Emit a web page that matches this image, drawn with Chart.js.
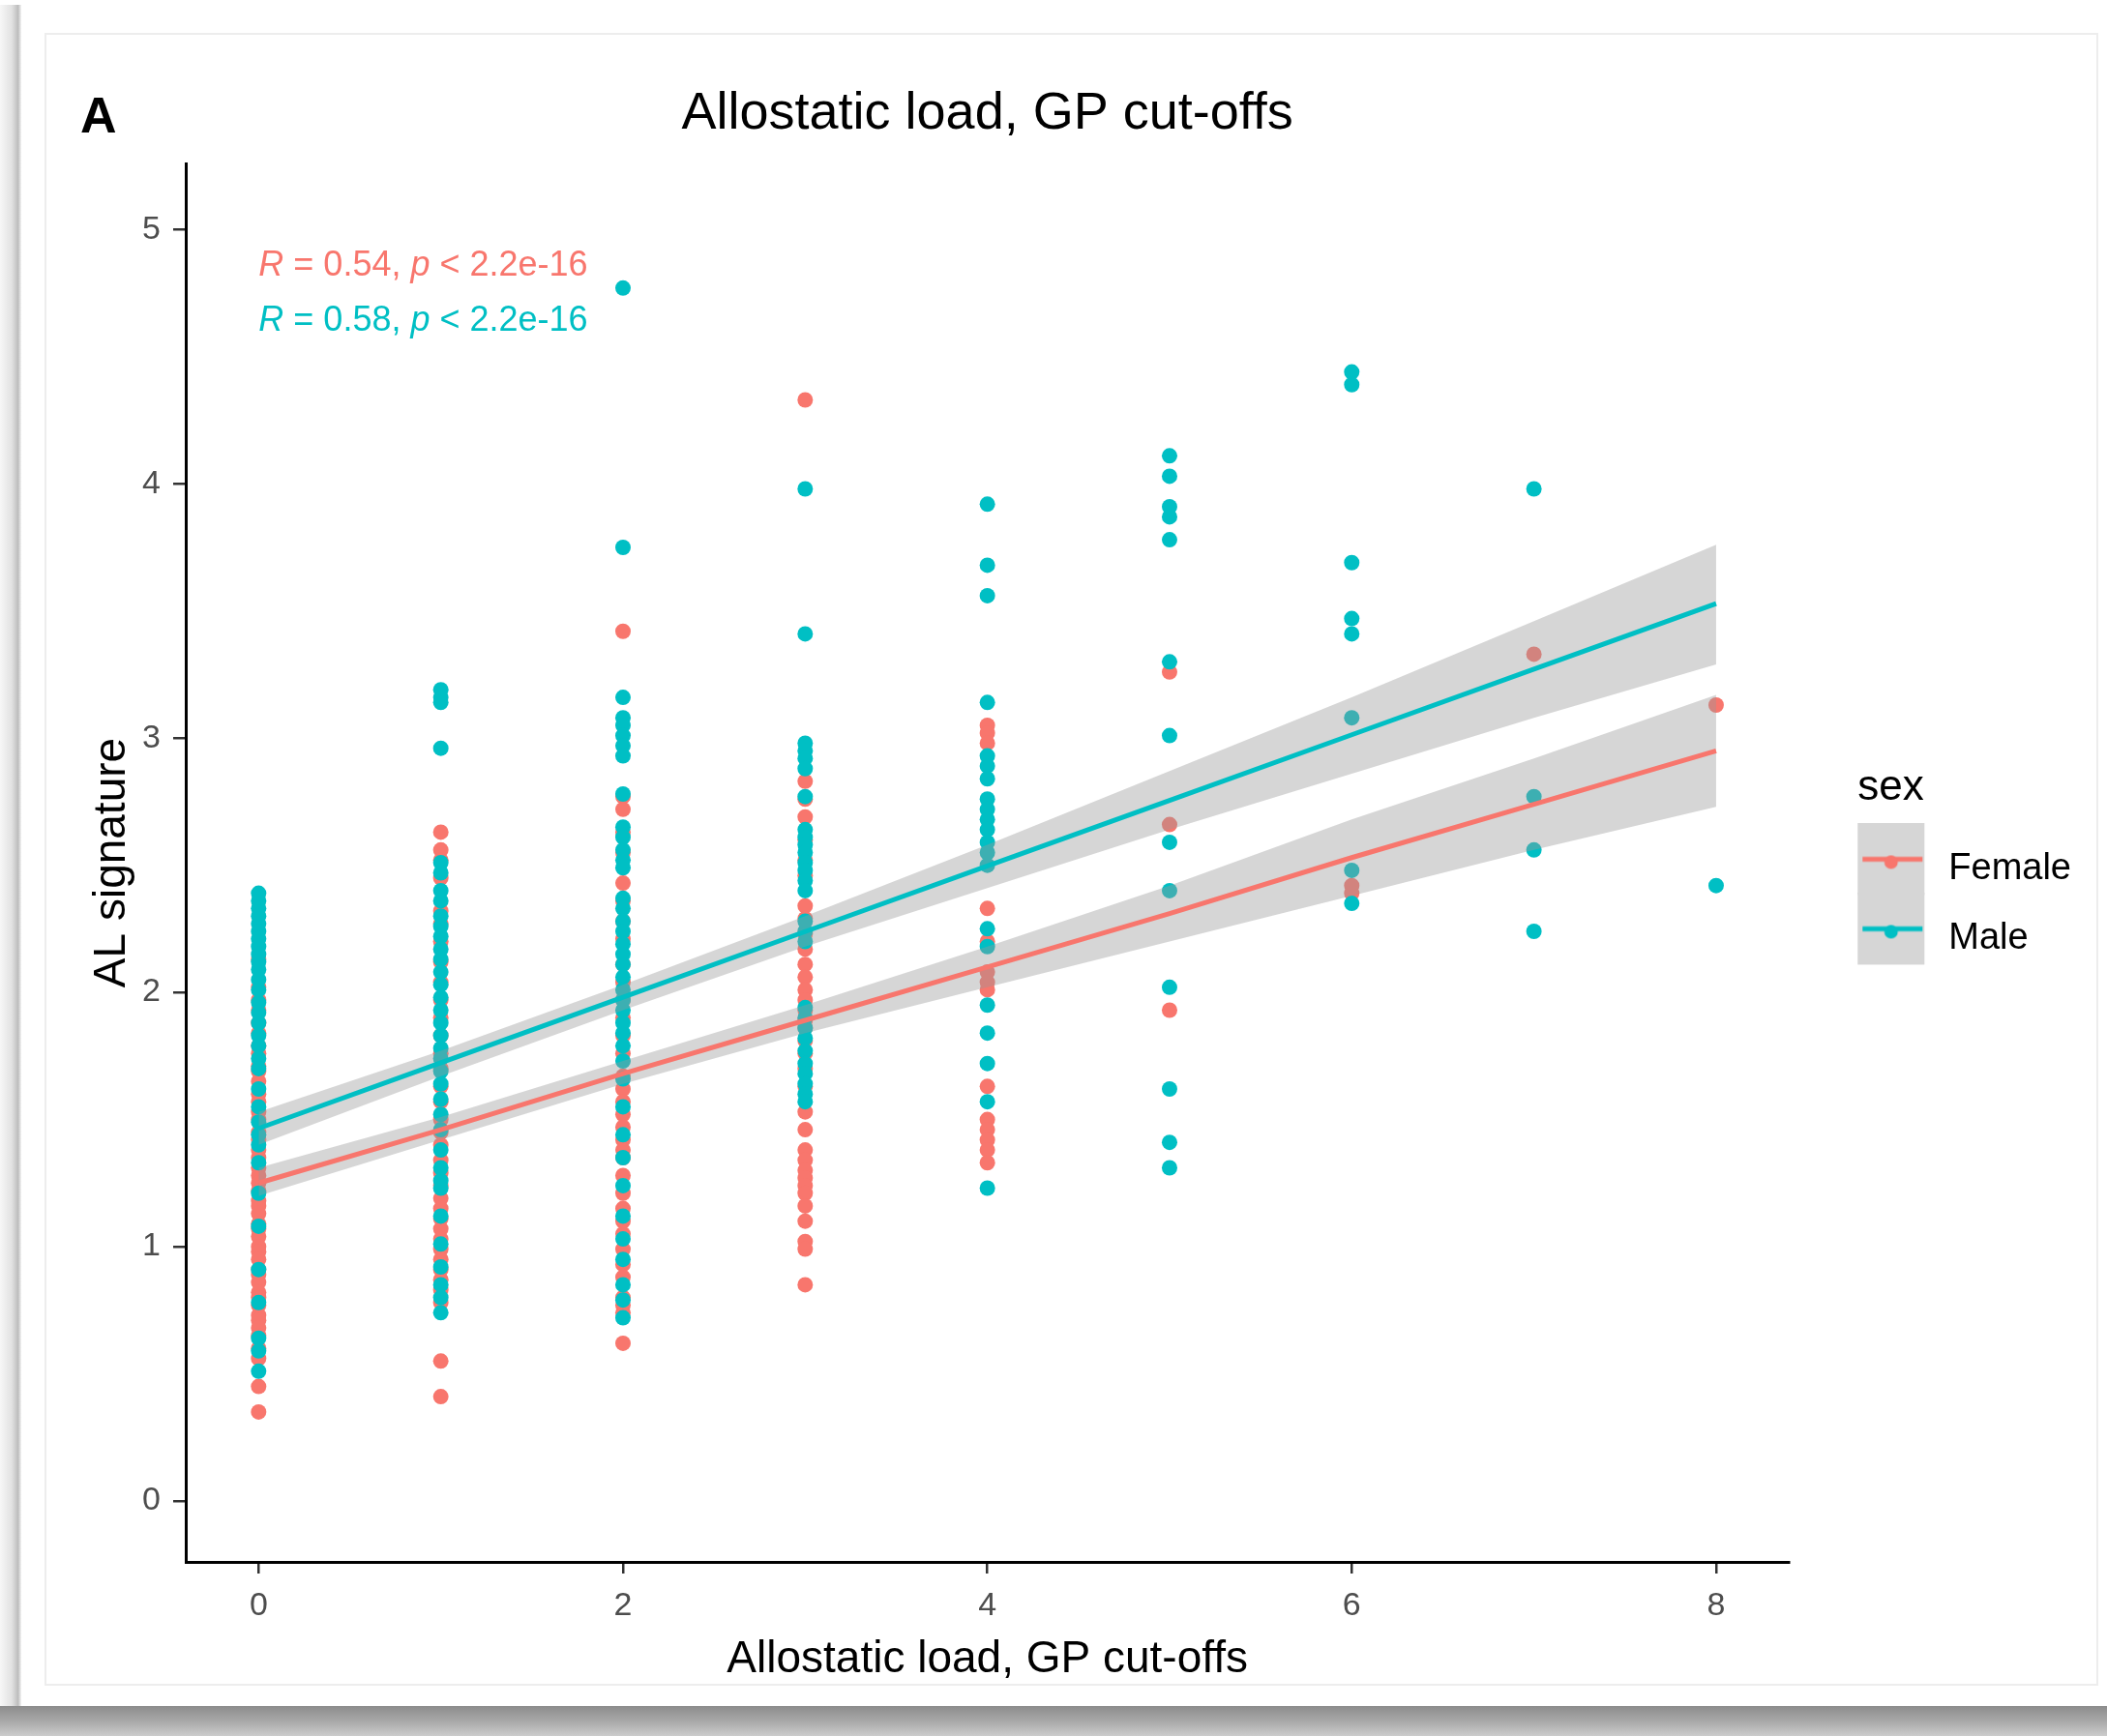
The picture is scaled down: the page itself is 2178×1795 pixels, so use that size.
<!DOCTYPE html>
<html>
<head>
<meta charset="utf-8">
<title>Allostatic load, GP cut-offs</title>
<script src="https://cdn.jsdelivr.net/npm/chart.js@4.4.1/dist/chart.umd.min.js"></script>
<style>
  html, body { margin: 0; padding: 0; background: #fff; }
  #wrap { width: 2178px; height: 1795px; position: relative; }
</style>
</head>
<body>
<div id="wrap"><canvas id="alChart"></canvas></div>
<script>
// allostatic load score (x) -> AL signature values
const loads = [0, 1, 2, 3, 4, 5, 6, 7, 8];

const female0 = [2.13, 2.02, 1.97, 1.93, 1.88, 1.84, 1.79, 1.76, 1.71, 1.69, 1.65, 1.60, 1.57, 1.53, 1.50, 1.45,
  1.42, 1.38, 1.35, 1.31, 1.28, 1.25, 1.22, 1.18, 1.16, 1.13, 1.09, 1.07, 1.04, 1.00, 0.98, 0.95, 0.91, 0.89,
  0.86, 0.82, 0.80, 0.77, 0.73, 0.71, 0.68, 0.65, 0.60, 0.56, 0.45, 0.35];
const female1 = [2.63, 2.56, 2.52, 2.45, 2.32, 2.27, 2.20, 2.12, 2.04, 1.97, 1.90, 1.83, 1.76, 1.70, 1.63, 1.57,
  1.50, 1.45, 1.40, 1.34, 1.29, 1.24, 1.19, 1.15, 1.11, 1.07, 1.03, 0.99, 0.95, 0.91, 0.87, 0.83, 0.78, 0.55, 0.41];
const female2 = [3.42, 2.77, 2.72, 2.63, 2.55, 2.43, 2.36, 2.28, 2.21, 2.11, 2.04, 1.97, 1.90, 1.83, 1.76, 1.67,
  1.62, 1.57, 1.52, 1.47, 1.42, 1.38, 1.35, 1.28, 1.21, 1.15, 1.10, 1.05, 0.99, 0.93, 0.88, 0.80, 0.77, 0.74, 0.62];
const female3 = [4.33, 2.83, 2.76, 2.69, 2.60, 2.52, 2.46, 2.34, 2.29, 2.23, 2.17, 2.11, 2.06, 2.01, 1.97, 1.93,
  1.89, 1.86, 1.81, 1.76, 1.70, 1.63, 1.53, 1.46, 1.38, 1.34, 1.30, 1.27, 1.24, 1.21, 1.16, 1.10, 1.02, 0.99, 0.85];
const female4 = [3.05, 3.02, 2.98, 2.33, 2.20, 2.08, 2.04, 2.01, 1.63, 1.50, 1.46, 1.42, 1.38, 1.33];
const female5 = [3.26, 2.66, 1.93];
const female6 = [2.42, 2.39];
const female7 = [3.33];
const female8 = [3.13];

const male0 = [2.39, 2.36, 2.33, 2.30, 2.27, 2.24, 2.21, 2.18, 2.15, 2.12, 2.09, 2.05, 2.01, 1.96, 1.92, 1.88,
  1.83, 1.79, 1.74, 1.70, 1.62, 1.55, 1.49, 1.44, 1.40, 1.33, 1.21, 1.08, 0.91, 0.78, 0.64, 0.59, 0.51];
const male1 = [3.19, 3.16, 3.14, 2.96, 2.51, 2.47, 2.40, 2.36, 2.30, 2.26, 2.22, 2.17, 2.13, 2.08, 2.03, 1.98,
  1.93, 1.88, 1.83, 1.78, 1.74, 1.69, 1.64, 1.58, 1.52, 1.46, 1.38, 1.31, 1.26, 1.23, 1.12, 1.01, 0.92, 0.85, 0.80, 0.74];
const male2 = [4.77, 3.75, 3.16, 3.08, 3.05, 3.01, 2.97, 2.93, 2.78, 2.65, 2.61, 2.56, 2.52, 2.49, 2.37, 2.33,
  2.28, 2.24, 2.19, 2.15, 2.11, 2.06, 2.01, 1.97, 1.93, 1.88, 1.84, 1.79, 1.73, 1.66, 1.55, 1.44, 1.35, 1.24,
  1.12, 1.03, 0.95, 0.85, 0.79, 0.72];
const male3 = [3.98, 3.41, 2.98, 2.95, 2.92, 2.88, 2.77, 2.64, 2.61, 2.58, 2.55, 2.51, 2.48, 2.44, 2.40, 2.28,
  2.24, 2.20, 1.94, 1.90, 1.86, 1.82, 1.77, 1.72, 1.68, 1.64, 1.60, 1.57];
const male4 = [3.92, 3.68, 3.56, 3.14, 2.93, 2.89, 2.84, 2.76, 2.72, 2.68, 2.64, 2.59, 2.55, 2.50, 2.25, 2.18,
  1.95, 1.84, 1.72, 1.57, 1.23];
const male5 = [4.11, 4.03, 3.91, 3.87, 3.78, 3.30, 3.01, 2.59, 2.40, 2.02, 1.62, 1.41, 1.31];
const male6 = [4.44, 4.39, 3.69, 3.47, 3.41, 3.08, 2.48, 2.35];
const male7 = [3.98, 2.77, 2.56, 2.24];
const male8 = [2.42];

const femaleAt = [female0, female1, female2, female3, female4, female5, female6, female7, female8];
const maleAt = [male0, male1, male2, male3, male4, male5, male6, male7, male8];

// linear fits and 95% bands, read at each load value
const femaleFit = [1.25, 1.46, 1.68, 1.89, 2.10, 2.31, 2.53, 2.74, 2.95];
const femaleLow = [1.20, 1.42, 1.64, 1.84, 2.02, 2.20, 2.38, 2.56, 2.73];
const femaleHigh = [1.31, 1.51, 1.73, 1.95, 2.18, 2.42, 2.68, 2.92, 3.17];
const maleFit = [1.465, 1.723, 1.981, 2.239, 2.497, 2.755, 3.013, 3.271, 3.529];
const maleLow = [1.40, 1.67, 1.93, 2.18, 2.41, 2.64, 2.86, 3.08, 3.29];
const maleHigh = [1.53, 1.77, 2.03, 2.30, 2.58, 2.87, 3.16, 3.46, 3.76];

const xTicks = [0, 2, 4, 6, 8];
const yTicks = [0, 1, 2, 3, 4, 5];
const sexes = ['Female', 'Male'];
const corR = ['0.54', '0.58'];
const corP = '2.2e-16';

const RED = '#F8766D';
const TEAL = '#00BFC4';
const FONT = '"Liberation Sans", Arial, sans-serif';

Chart.defaults.font.family = FONT;

const toPoints = (cols) => loads.flatMap((x, i) => cols[i].map(y => ({ x: x, y: y })));
const toLine = (vals) => loads.map((x, i) => ({ x: x, y: vals[i] }));

// grey ggplot-style legend key: line with a point on it
function legendKey(color) {
    const c = document.createElement('canvas');
    c.width = 109;
    c.height = 94;
    const g = c.getContext('2d');
    g.fillStyle = '#d6d6d6';
    g.fillRect(0, 0, 69, 74);
    g.strokeStyle = color;
    g.lineWidth = 5;
    g.beginPath();
    g.moveTo(5, 37);
    g.lineTo(67, 37);
    g.stroke();
    g.fillStyle = color;
    g.beginPath();
    g.arc(34.5, 40, 7, 0, Math.PI * 2);
    g.fill();
    return c;
}
const keyImages = [legendKey(RED), legendKey(TEAL)];

const bandStyle = {
    type: 'line',
    pointRadius: 0,
    borderWidth: 0,
    borderColor: 'rgba(0,0,0,0)',
    tension: 0,
    order: 5
};

const extras = {
    id: 'extras',
    beforeDraw(chart) {
        const ctx = chart.ctx;
        const w = chart.width, h = chart.height;
        ctx.save();
        ctx.fillStyle = '#ffffff';
        ctx.fillRect(0, 0, w, h);
        // left shadow of the pasted figure
        let grad = ctx.createLinearGradient(0, 0, 22, 0);
        grad.addColorStop(0, '#f7f7f7');
        grad.addColorStop(0.55, '#e2e2e2');
        grad.addColorStop(0.85, '#bdbdbd');
        grad.addColorStop(1, '#f4f4f4');
        ctx.fillStyle = grad;
        ctx.fillRect(0, 5, 22, h - 5);
        // bottom shadow
        grad = ctx.createLinearGradient(0, 1764, 0, h);
        grad.addColorStop(0, '#8c8c8c');
        grad.addColorStop(0.5, '#a8a8a8');
        grad.addColorStop(1, '#cccccc');
        ctx.fillStyle = grad;
        ctx.fillRect(0, 1764, w, h - 1764);
        // faint inner frame
        ctx.strokeStyle = '#ededed';
        ctx.lineWidth = 2;
        ctx.strokeRect(47, 35, 2121, 1707);
        ctx.restore();
    },
    afterDatasetsDraw(chart) {
        const ctx = chart.ctx;
        const xs = chart.scales.x, ys = chart.scales.y;
        const rows = [[RED, 4.855], [TEAL, 4.64]];
        ctx.save();
        ctx.textBaseline = 'middle';
        ctx.textAlign = 'left';
        rows.forEach(([color, yVal], i) => {
            const parts = [
                ['italic', 'R'], ['normal', ' = ' + corR[i] + ', '],
                ['italic', 'p'], ['normal', ' < ' + corP]
            ];
            let px = xs.getPixelForValue(0);
            const py = ys.getPixelForValue(yVal);
            ctx.fillStyle = color;
            parts.forEach(([style, txt]) => {
                ctx.font = style + ' 36px ' + FONT;
                ctx.fillText(txt, px, py);
                px += ctx.measureText(txt).width;
            });
        });
        ctx.restore();
    },
    afterDraw(chart) {
        const ctx = chart.ctx;
        ctx.save();
        ctx.fillStyle = '#000';
        ctx.font = 'bold 52px ' + FONT;
        ctx.textBaseline = 'alphabetic';
        ctx.fillText('A', 83, 137);
        ctx.restore();
    }
};

const ctx = document.getElementById('alChart').getContext('2d');
const alChart = new Chart(ctx, {
    type: 'scatter',
    data: {
        datasets: [
            {
                label: sexes[0],
                data: toPoints(femaleAt),
                backgroundColor: RED,
                borderWidth: 0,
                pointRadius: 8,
                order: 10
            },
            {
                label: sexes[1],
                data: toPoints(maleAt),
                backgroundColor: TEAL,
                borderWidth: 0,
                pointRadius: 8,
                order: 9
            },
            Object.assign({ label: 'Female low', data: toLine(femaleLow), fill: false }, bandStyle),
            Object.assign({ label: 'Female high', data: toLine(femaleHigh), fill: { target: 2 },
                backgroundColor: 'rgba(153,153,153,0.4)' }, bandStyle),
            Object.assign({ label: 'Male low', data: toLine(maleLow), fill: false }, bandStyle),
            Object.assign({ label: 'Male high', data: toLine(maleHigh), fill: { target: 4 },
                backgroundColor: 'rgba(153,153,153,0.4)' }, bandStyle),
            {
                type: 'line',
                label: 'Female fit',
                data: toLine(femaleFit),
                borderColor: RED,
                borderWidth: 5,
                pointRadius: 0,
                fill: false,
                order: 1
            },
            {
                type: 'line',
                label: 'Male fit',
                data: toLine(maleFit),
                borderColor: TEAL,
                borderWidth: 5,
                pointRadius: 0,
                fill: false,
                order: 0
            }
        ]
    },
    options: {
        responsive: true,
        maintainAspectRatio: false,
        animation: false,
        events: [],
        layout: {
            padding: { left: 0, right: 27, top: 0, bottom: 0 }
        },
        scales: {
            x: {
                type: 'linear',
                min: -0.4,
                max: 8.4,
                afterBuildTicks: (scale) => { scale.ticks = xTicks.map(v => ({ value: v })); },
                afterFit: (scale) => { scale.height = 180; },
                grid: {
                    drawOnChartArea: false,
                    drawTicks: true,
                    tickLength: 12,
                    color: '#333',
                    lineWidth: 2.5
                },
                border: { display: true, color: '#000', width: 3 },
                ticks: {
                    font: { size: 34 },
                    color: '#4d4d4d',
                    padding: 13
                },
                title: {
                    display: true,
                    text: 'Allostatic load, GP cut-offs',
                    font: { size: 46 },
                    color: '#000',
                    padding: { top: 0, bottom: 51 }
                }
            },
            y: {
                type: 'linear',
                min: -0.24,
                max: 5.26,
                afterBuildTicks: (scale) => { scale.ticks = yTicks.map(v => ({ value: v })); },
                afterFit: (scale) => { scale.width = 192; },
                grid: {
                    drawOnChartArea: false,
                    drawTicks: true,
                    tickLength: 13,
                    color: '#333',
                    lineWidth: 2.5
                },
                border: { display: true, color: '#000', width: 3 },
                ticks: {
                    font: { size: 34 },
                    color: '#4d4d4d',
                    padding: 13
                },
                title: {
                    display: true,
                    text: 'AL signature',
                    font: { size: 46 },
                    color: '#000',
                    padding: { top: 89, bottom: 0 }
                }
            },
            // empty spacer between the panel and the legend
            gap: {
                type: 'linear',
                position: 'right',
                display: true,
                afterFit: (scale) => { scale.width = 71; },
                grid: { display: false },
                border: { display: false },
                ticks: { display: false }
            }
        },
        plugins: {
            title: {
                display: true,
                text: 'Allostatic load, GP cut-offs',
                fullSize: false,
                color: '#000',
                font: { size: 54, weight: 'normal' },
                padding: { top: 86, bottom: 18.2 }
            },
            legend: {
                display: true,
                position: 'right',
                align: 'center',
                fullSize: true,
                title: {
                    display: true,
                    text: 'sex',
                    position: 'start',
                    color: '#000',
                    font: { size: 44 },
                    padding: { top: 21, bottom: 0 }
                },
                labels: {
                    usePointStyle: true,
                    pointStyleWidth: 41,
                    padding: 34,
                    color: '#000',
                    font: { size: 38 },
                    generateLabels: () => sexes.map((s, i) => ({
                        text: s,
                        pointStyle: keyImages[i],
                        fillStyle: i === 0 ? RED : TEAL,
                        strokeStyle: i === 0 ? RED : TEAL,
                        lineWidth: 0,
                        hidden: false,
                        datasetIndex: i
                    }))
                }
            },
            tooltip: { enabled: false }
        }
    },
    plugins: [extras]
});
</script>
</body>
</html>
